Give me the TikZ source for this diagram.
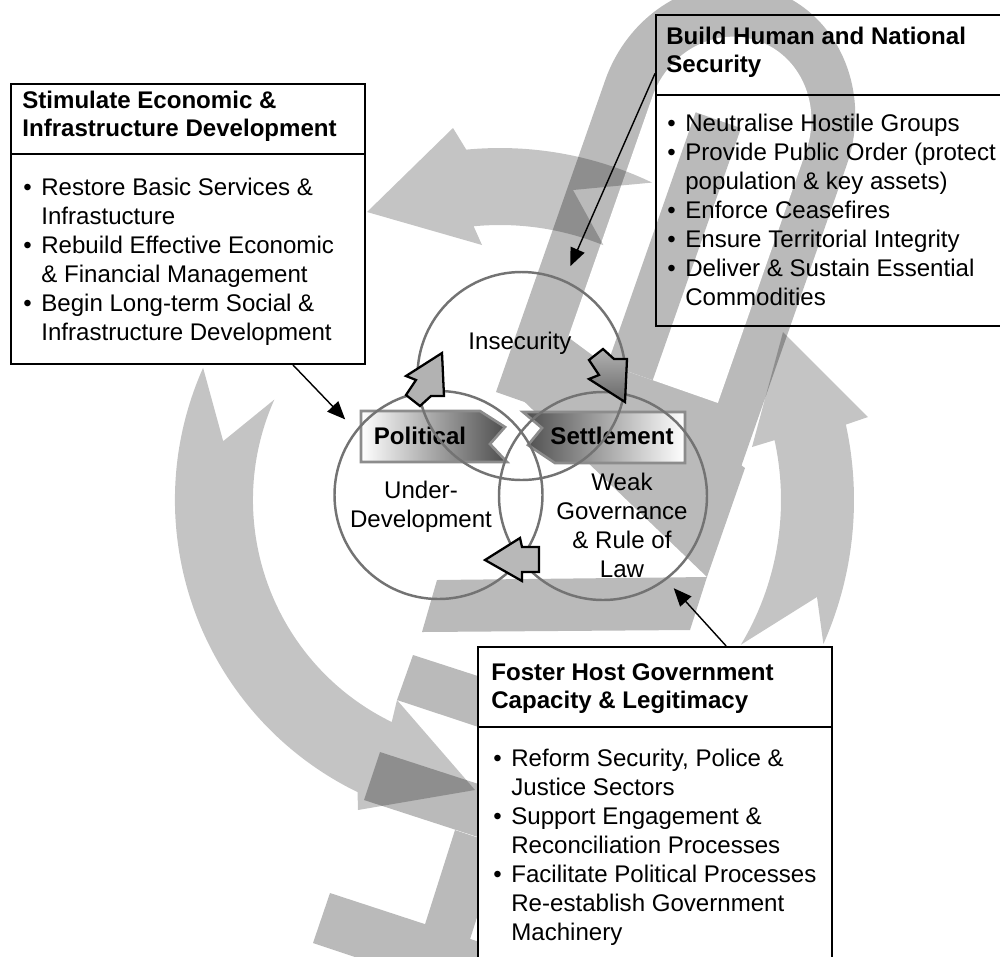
\documentclass[tikz,border=0pt]{standalone}
\usepackage{fontspec}
\setmainfont{Liberation Sans}
\usepackage{tikz}
\usetikzlibrary{arrows.meta,calc}
\definecolor{wmgray}{HTML}{BABABA}
\newcommand{\bul}{\makebox[3.6mm][l]{\textbullet}}
\newcommand{\ind}{\hspace*{3.6mm}}
\tikzstyle{wm} = [fill=wmgray]
\tikzstyle{ho} = [fill=white]
\tikzstyle{cy} = [fill=black, fill opacity=0.23]
\tikzstyle{bx} = [rectangle, draw=black, line width=1.1pt, inner sep=0pt, anchor=north west]
\tikzstyle{ttl} = [anchor=north west, align=left, inner sep=0pt, font=\fontsize{13.7}{16}\selectfont\bfseries]
\tikzstyle{lst} = [anchor=north west, align=left, inner sep=0pt, font=\fontsize{13.7}{16.5}\selectfont]
\tikzstyle{vc} = [circle, draw=black!55, line width=1.4pt, minimum size=41.6mm, inner sep=0pt]
\tikzstyle{vt} = [align=center, inner sep=0pt, font=\fontsize{13.7}{16.5}\selectfont]
\tikzstyle{bt} = [inner sep=0pt, font=\fontsize{13.7}{16.5}\selectfont\bfseries]
\tikzstyle{bn} = [draw=black!45, line width=1.5pt]
\tikzstyle{ba} = [draw=black, line width=1.3pt]
\tikzstyle{cn} = [-{Triangle[length=3.6mm, width=3mm]}, line width=0.8pt]

\begin{document}
\begin{tikzpicture}[x=0.2mm, y=-0.2mm]
	\useasboundingbox (0,0) rectangle (1000,956);
	\clip (0,0) rectangle (1000,956);
	\coordinate (cc) at (500,500);

	\begin{scope}[shift={(496,392)}, rotate=-19.3]
		\fill[wm] (0,0) -- (0,-330) arc[start angle=180, end angle=360, x radius=128, y radius=140] -- (256,0) -- cycle;
		\fill[ho] (50,-63) -- (50,-330) arc[start angle=180, end angle=360, x radius=81.5, y radius=88] -- (213,-63) -- cycle;
		\fill[wm] (96,-63) rectangle (144,-330);
	\end{scope}
	\fill[wm] (507,385) -- (565,335) -- (745,468) -- (707,577) -- cycle;
	\fill[wm] (437,580) -- (707,577) -- (690,630) -- (422,632) -- cycle;
	\fill[wm] (413,655) -- (700,748) -- (684,795) -- (397,700) -- cycle;
	\fill[wm] (380,752) -- (700,856) -- (684,904) -- (364,800) -- cycle;
	\fill[wm] (455,830) -- (500,845) -- (465,955) -- (420,940) -- cycle;
	\fill[wm] (330,893) -- (620,988) -- (603,1040) -- (313,943) -- cycle;

	\fill[cy] ($(cc)+(-156:325)$) arc[start angle=-156, end angle=-244, radius=325] -- (358,810) -- (475,790) -- (397,700)
		-- ($(cc)+(-244:247)$) arc[start angle=-244, end angle=-156, radius=247] -- ($(cc)+(-168:283)$) -- cycle;
	\fill[cy] ($(cc)+(-64.4:352)$) arc[start angle=-64.4, end angle=-95.5, radius=352] -- (453,128) -- (367,212) -- (482,245)
		-- ($(cc)+(-95.5:275)$) arc[start angle=-95.5, end angle=-67.9, radius=275] -- (573,190) -- cycle;
	\fill[cy] ($(cc)+(24:354)$) -- (817,597) -- ($(cc)+(31:281)$) arc[start angle=31, end angle=-12.3, radius=281] -- (752,447)
		-- (783,332) -- (868,417) -- ($(cc)+(-12.3:354)$) arc[start angle=-12.3, end angle=24, radius=354] -- cycle;

	\node (stim) [bx, fill=white, minimum width=70.8mm, minimum height=56mm] at (10,83) {};
	\draw[line width=1.5pt] (10,154) -- (364,154);
	\node (stim-ttl) [ttl] at (22,91) {Stimulate Economic \&\\Infrastructure Development};
	\node (stim-lst) [lst] at (23,178) {\bul Restore Basic Services \&\\\ind Infrastucture\\\bul Rebuild Effective Economic\\\ind \& Financial Management\\\bul Begin Long-term Social \&\\\ind Infrastructure Development};

	\node (build) [bx, minimum width=69.8mm, minimum height=62.2mm] at (655,14) {};
	\draw[line width=1.5pt] (655,95) -- (1004,95);
	\node (build-ttl) [ttl] at (666,27) {Build Human and National\\Security};
	\node (build-lst) [lst] at (667,114) {\bul Neutralise Hostile Groups\\\bul Provide Public Order (protect\\\ind population \& key assets)\\\bul Enforce Ceasefires\\\bul Ensure Territorial Integrity\\\bul Deliver \& Sustain Essential\\\ind Commodities};

	\node (foster) [bx, fill=white, minimum width=70.8mm, minimum height=66.8mm] at (477,646) {};
	\draw[line width=1.5pt] (477,727) -- (831,727);
	\node (foster-ttl) [ttl] at (491,663) {Foster Host Government\\Capacity \& Legitimacy};
	\node (foster-lst) [lst] at (493,749) {\bul Reform Security, Police \&\\\ind Justice Sectors\\\bul Support Engagement \&\\\ind Reconciliation Processes\\\bul Facilitate Political Processes\\\ind Re-establish Government\\\ind Machinery};

	\draw[bn, left color=white, right color=black!70] (361,411) -- (480,411) -- (505,427) -- (490,444) -- (507,462) -- (361,462) -- cycle;
	\draw[bn, left color=black!70, right color=white] (523,412) -- (685,412) -- (685,463) -- (555,463) -- (528,445) -- (542,428) -- cycle;
	\node (pol-t) [bt] at (420,436) {Political};
	\node (set-t) [bt] at (612,436) {Settlement};

	\node (insec) [vc] at (521.5,376) {};
	\node (under) [vc] at (438.5,495) {};
	\node (weak) [vc] at (603,496) {};
	\node (insec-t) [vt] at (520,343) {Insecurity};
	\node (under-t) [vt] at (421,507) {Under-\\Development};
	\node (weak-t) [vt] at (622,525) {Weak\\Governance\\\& Rule of\\Law};

	\filldraw[ba, fill=black!30] (442,353) -- (406,376) -- (416,380) -- (406,395) -- (420,406) -- (431,396) -- (444,396) -- cycle;
	\filldraw[ba, top color=black!30, bottom color=black!60] (625,402) -- (589,379) -- (599,375) -- (589,360) -- (603,349) -- (614,359) -- (627,359) -- cycle;
	\filldraw[ba, fill=black!28] (485,560) -- (520,538) -- (522,547) -- (539,547) -- (539,572) -- (522,572) -- (522,581) -- cycle;

	\draw[cn, shorten >=3mm] ($(stim.south west)!0.795!(stim.south east)$) -- (under.142);
	\draw[cn, shorten >=3mm] ($(build.north west)!0.19!(build.south west)$) -- (insec.66);
	\draw[cn, shorten >=2.2mm] ($(foster.north west)!0.7!(foster.north east)$) -- (weak.-53);
\end{tikzpicture}
\end{document}
